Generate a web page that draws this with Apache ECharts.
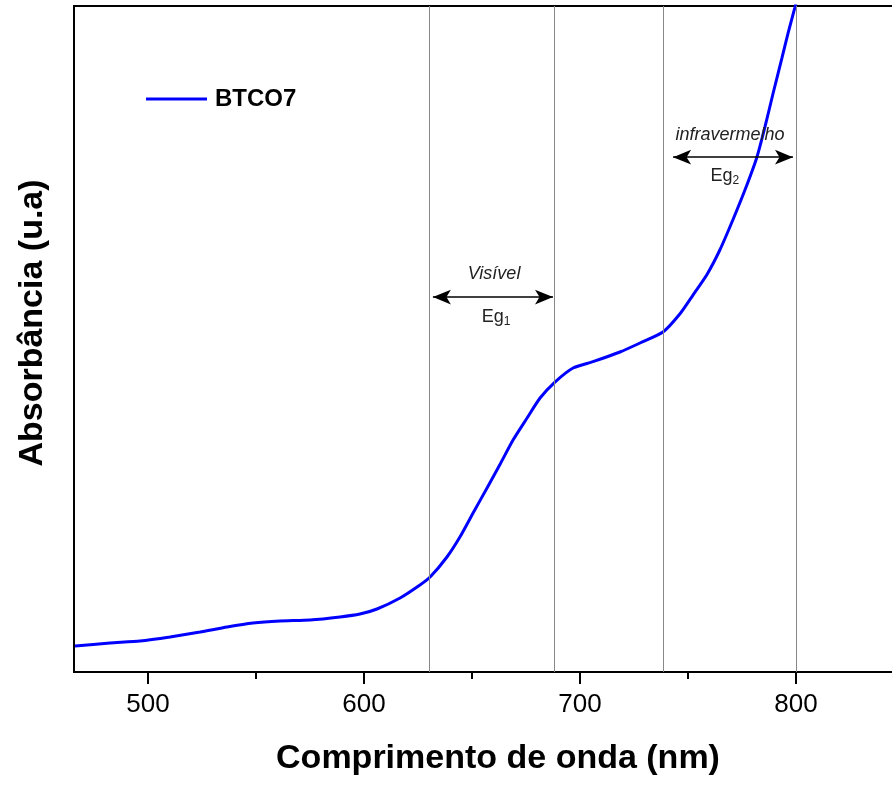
<!DOCTYPE html>
<html>
<head>
<meta charset="utf-8">
<script src="https://cdn.jsdelivr.net/npm/echarts@6/dist/echarts.min.js"></script>
<style>
html,body{margin:0;padding:0;background:#fff;}
#chart{width:892px;height:787px;}
</style>
</head>
<body>
<div id="chart"></div>
<script>
// ---- data ----
const wavelength = [466.2, 482.4, 496.3, 510.2, 524.1, 536.6, 548.6, 561.1, 575.0, 588.9, 598.1, 606.0, 616.7, 625.9, 630.6, 638.4, 644.4, 650.5, 656.9, 663.0, 669.0, 675.5, 681.5, 688.4, 696.8, 706.0, 718.5, 727.8, 738.4, 746.3, 752.3, 758.8, 764.8, 770.8, 776.4, 781.9, 785.6, 789.4, 793.5, 796.3, 799.5, 801.0];
const absorbance = [3.9, 4.35, 4.65, 5.26, 6.0, 6.76, 7.36, 7.66, 7.81, 8.26, 8.7, 9.46, 11.11, 13.06, 14.26, 17.27, 20.27, 23.87, 27.6, 31.2, 34.83, 38.14, 41.14, 43.54, 45.65, 46.6, 48.05, 49.40, 51.05, 53.8, 56.6, 59.7, 63.4, 67.9, 72.4, 77.3, 81.8, 86.9, 92.2, 95.9, 99.8, 101.7];
const seriesName = 'BTCO7';
const tickValues = [500, 600, 700, 800];
const minorTickValues = [550, 650, 750];
const guideLines = [630.1, 688.0, 738.4, 800.0];
const arrowVisible = [[631.9, 56.3], [687.5, 56.3]];
const arrowInfra = [[743.1, 77.3], [798.6, 77.3]];
const annotations = [
  {text: '{it|Visível}', coord: [660.2, 59.8]},
  {text: '{n|Eg}{sub|1}', coord: [661.1, 53.3]},
  {text: '{it|infravermelho}', coord: [769.4, 80.6]},
  {text: '{n|Eg}{sub|2}', coord: [767.1, 74.5]}
];
const xName = 'Comprimento de onda (nm)';
const yName = 'Absorbância (u.a)';

// ---- chart ----
const xMin = 500 - 74 / 2.16;
const xMax = xMin + 848 / 2.16;
const font = 'Liberation Sans, Arial, sans-serif';
const chart = echarts.init(document.getElementById('chart'), null, {renderer: 'canvas'});
const data = wavelength.map((w, i) => [w, absorbance[i]]);

chart.setOption({
  animation: false,
  backgroundColor: '#fff',
  textStyle: {fontFamily: font},
  grid: {left: 74, top: 6, width: 848, height: 666, outerBoundsMode: 'none', containLabel: false,
         show: true, borderColor: '#000', borderWidth: 2, backgroundColor: 'transparent'},
  legend: {
    left: 141, top: 82, itemWidth: 61, itemHeight: 3, itemGap: 8, icon: 'rect',
    data: [{name: seriesName, icon: 'rect'}],
    textStyle: {fontFamily: font, fontWeight: 'bold', fontSize: 24, color: '#000', padding: [0, 0, 0, 3]}
  },
  xAxis: [{
    type: 'value', min: xMin, max: xMax,
    name: xName, nameLocation: 'middle', nameGap: 70,
    nameTextStyle: {fontFamily: font, fontWeight: 'bold', fontSize: 34, color: '#000'},
    axisLine: {show: true, lineStyle: {color: '#000', width: 2}},
    axisTick: {show: true, inside: false, length: 12, lineStyle: {color: '#000', width: 2}, customValues: tickValues},
    axisLabel: {show: true, margin: 20, fontSize: 26, color: '#000', fontFamily: font, customValues: tickValues},
    splitLine: {show: false}
  }, {
    type: 'value', min: xMin, max: xMax, position: 'bottom',
    axisLine: {show: false},
    axisTick: {show: true, inside: false, length: 7, lineStyle: {color: '#000', width: 2}, customValues: minorTickValues},
    axisLabel: {show: false},
    splitLine: {show: false}
  }],
  yAxis: {
    type: 'value', min: 0, max: 100,
    name: yName, nameLocation: 'middle', nameGap: 24,
    nameTextStyle: {fontFamily: font, fontWeight: 'bold', fontSize: 34, color: '#000', padding: [0, 0, 0, 32]},
    axisLine: {show: true, lineStyle: {color: '#000', width: 2}},
    axisTick: {show: false}, axisLabel: {show: false}, splitLine: {show: false}
  },
  series: [{
    name: seriesName, type: 'line', data: data, symbol: 'none', smooth: 0.2, clip: true,
    lineStyle: {color: '#0000FF', width: 3}, itemStyle: {color: '#0000FF'},
    z: 3,
    markLine: {
      silent: true, symbol: ['none', 'none'], animation: false,
      label: {show: false},
      lineStyle: {color: '#888', width: 1, type: 'solid'},
      data: guideLines.map(v => ({xAxis: v}))
    }
  }, {
    name: 'annot', type: 'line', data: [], symbol: 'none',
    markLine: {
      silent: true, symbol: ['arrow', 'arrow'], symbolSize: [11, 18], animation: false,
      label: {show: false},
      lineStyle: {color: '#000', width: 1.5, type: 'solid'},
      data: [
        [{coord: arrowVisible[0]}, {coord: arrowVisible[1]}],
        [{coord: arrowInfra[0]}, {coord: arrowInfra[1]}]
      ]
    },
    markPoint: {
      silent: true, symbol: 'circle', symbolSize: 0, animation: false,
      label: {
        show: true, position: 'inside',
        formatter: p => p.data.text,
        rich: {
          it: {fontStyle: 'italic', fontSize: 18, color: '#222', fontFamily: font},
          n: {fontSize: 18, color: '#222', fontFamily: font},
          sub: {fontSize: 12, color: '#222', fontFamily: font, padding: [10, 0, 0, 0]}
        }
      },
      data: annotations.map(a => ({coord: a.coord, text: a.text}))
    }
  }]
});
</script>
</body>
</html>
